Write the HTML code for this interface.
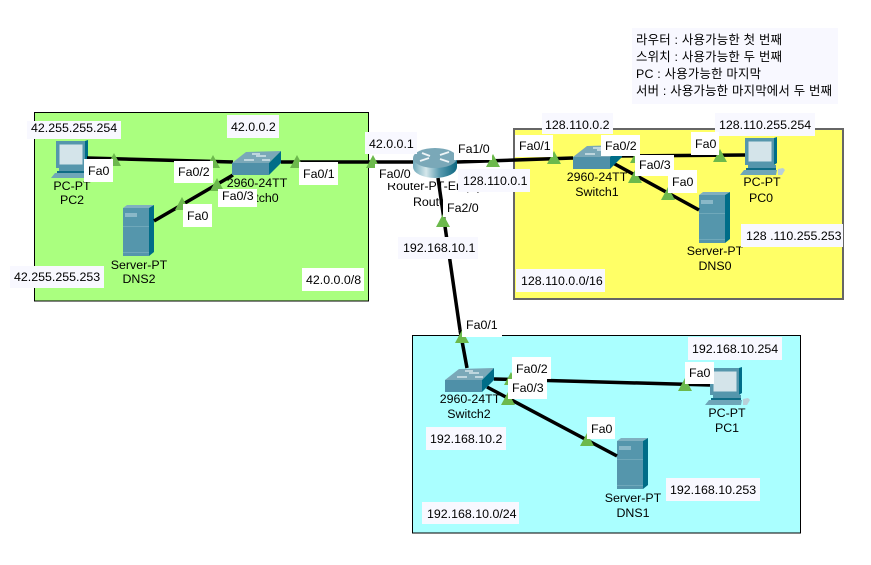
<!DOCTYPE html>
<html><head><meta charset="utf-8"><style>
html,body{margin:0;padding:0;background:#fff;width:871px;height:565px;overflow:hidden}
svg{display:block}
text{font-family:"Liberation Sans","Noto Sans CJK KR",sans-serif;font-size:12.4px;fill:#000}
.c{text-anchor:middle}
.l{stroke:#000;stroke-width:3.5;fill:none}
.b{fill:#f8f8ff}.w{fill:#fff}
.t{fill:#6cb94c}
</style></head><body>
<svg width="871" height="565" viewBox="0 0 871 565" xmlns="http://www.w3.org/2000/svg">
<defs>
<linearGradient id="rg" x1="0" x2="1" y1="0" y2="0"><stop offset="0" stop-color="#6fa9ba"/><stop offset=".3" stop-color="#d5e7eb"/><stop offset=".6" stop-color="#5a9bb0"/><stop offset="1" stop-color="#0c6781"/></linearGradient>
<symbol id="pc" overflow="visible" viewBox="0 0 1 1" width="1" height="1">
<polygon points="29,0 32,-1 32,25 29,27" fill="#006d88"/>
<rect x="0" y="0" width="29" height="27" fill="#5596ac"/>
<rect x="3.500" y="3.500" width="23" height="20" fill="#d4e4ea"/>
<rect x="3" y="27" width="28" height="3" fill="#5596ac"/>
<rect x="1" y="30" width="30" height="2" fill="#0f6c85"/>
<polygon points="-1,32 32,32 31,37 -5,37" fill="#6fa6b8"/>
<polygon points="33,31 38,30 40,32 37,37 33,37" fill="#b9d0d8"/>
</symbol>
<symbol id="sv" overflow="visible" viewBox="0 0 1 1" width="1" height="1">
<rect x="0" y="3" width="26" height="48" fill="#5596ac"/>
<polygon points="0,3 4,0 31,0 26,3" fill="#80b0c0"/>
<polygon points="26,3 31,0 31,47 26,51" fill="#006d88"/>
<rect x="2" y="8" width="12" height="4" fill="#8ab8c8"/>
<rect x="0" y="21" width="26" height="1" fill="#6fa8ba"/>
<rect x="0" y="47" width="26" height="1" fill="#6fa8ba"/>
</symbol>
<symbol id="sw" overflow="visible" viewBox="0 0 1 1" width="1" height="1">
<polygon points="0,12 14,1 49,0 37,12" fill="#7aa8b8"/>
<rect x="0" y="12" width="37" height="12" fill="#4f90a8"/>
<polygon points="37,12 49,0 49,12 37,24" fill="#006d88"/>
<path d="M12 9h10M24 5h10M30 9h8M20 3h8" stroke="#e8f2f5" stroke-width="1.200" fill="none"/>
</symbol>
</defs>

<rect x="34.500" y="112.500" width="334" height="188.500" fill="#aaff7f" stroke="#000"/>
<rect x="514" y="129" width="329" height="170" fill="#ffff66" stroke="#666" stroke-width="2"/>
<rect x="412.500" y="335.500" width="388" height="197.500" fill="#aaffff" stroke="#000"/>

<rect x="632" y="28" width="206" height="76" class="b"/>
<text x="636" y="44" textLength="146">라우터 : 사용가능한 첫 번째</text>
<text x="636" y="61" textLength="146">스위치 : 사용가능한 두 번째</text>
<text x="636" y="78" textLength="125">PC : 사용가능한 마지막</text>
<text x="636" y="95" textLength="196">서버 : 사용가능한 마지막에서 두 번째</text>

<!-- device labels -->
<text x="72" y="190" class="c">PC-PT</text><text x="72" y="204" class="c">PC2</text>
<text x="139" y="269" class="c">Server-PT</text><text x="139" y="283" class="c">DNS2</text>
<text x="257" y="187" class="c">2960-24TT</text><text x="257" y="202" class="c">Switch0</text>
<text x="435" y="190" class="c">Router-PT-Empty</text><text x="435" y="206" class="c">Router0</text>
<text x="597" y="181" class="c">2960-24TT</text><text x="597" y="196" class="c">Switch1</text>
<text x="762" y="186" class="c">PC-PT</text><text x="761" y="202" class="c">PC0</text>
<text x="715" y="255" class="c">Server-PT</text><text x="715" y="270" class="c">DNS0</text>
<text x="470" y="403" class="c">2960-24TT</text><text x="469" y="418" class="c">Switch2</text>
<text x="727" y="417" class="c">PC-PT</text><text x="727" y="432" class="c">PC1</text>
<text x="633" y="502" class="c">Server-PT</text><text x="633" y="517" class="c">DNS1</text>

<!-- devices -->
<use href="#pc" x="56" y="141"/><use href="#pc" x="745" y="138"/><use href="#pc" x="710" y="368"/>
<use href="#sv" x="123" y="205"/><use href="#sv" x="699" y="192"/><use href="#sv" x="617" y="438"/>

<!-- links -->
<path class="l" d="M87 158L233 162M281 162H413M154 221L233 175M457 162L573 158M613 156L745 155M613 163L699 210M467 368L460 330"/>
<path class="l" d="M494 379L710 385M487 387L617 456"/>

<use href="#sw" x="232" y="151"/><use href="#sw" x="573" y="145"/><use href="#sw" x="445" y="368"/>
<ellipse cx="435" cy="167" rx="22" ry="11" fill="url(#rg)"/>
<rect x="413" y="158" width="44" height="9" fill="url(#rg)"/>
<ellipse cx="435" cy="158" rx="22" ry="10" fill="#7aa8b8"/>
<path d="M420 161l9-3M440 155l9-3M422 153l8 3M440 159l9 3" stroke="#eef5f7" stroke-width="1.800" fill="none"/>
<path class="l" d="M438 178L460 330"/>

<!-- triangles -->
<g class="t">
<polygon points="114,153 107,166 121,166"/><polygon points="213,155 206,168 220,168"/>
<polygon points="217,178 210,191 224,191"/><polygon points="182,197 175,210 189,210"/>
<polygon points="297,155 290,168 304,168"/><polygon points="373,155 366,168 380,168"/>
<polygon points="493,154 486,167 500,167"/><polygon points="443,214 436,227 450,227"/>
<polygon points="554,151 547,164 561,164"/><polygon points="635,170 628,183 642,183"/>
<polygon points="637,150 630,163 644,163"/><polygon points="720,149 713,162 727,162"/>
<polygon points="668,187 661,200 675,200"/><polygon points="462,330 455,343 469,343"/>
<polygon points="685,378 678,391 692,391"/><polygon points="508,392 501,405 515,405"/>
<polygon points="511,372 504,385 518,385"/><polygon points="587,433 580,446 594,446"/>
</g>

<!-- labels -->
<rect x="27" y="121" width="94" height="18" class="b"/><text x="31" y="132">42.255.255.254</text>
<rect x="227" y="115" width="52" height="23" class="b"/><text x="231" y="131">42.0.0.2</text>
<rect x="84" y="159" width="29" height="23" class="w"/><text x="88" y="175">Fa0</text>
<rect x="174" y="161" width="39" height="22" class="w"/><text x="178" y="176">Fa0/2</text>
<rect x="218" y="189" width="39" height="18" class="w"/><text x="222" y="200">Fa0/3</text>
<rect x="299" y="162" width="39" height="23" class="w"/><text x="303" y="178">Fa0/1</text>
<rect x="183" y="204" width="29" height="23" class="w"/><text x="187" y="220">Fa0</text>
<rect x="10" y="266" width="94" height="22" class="b"/><text x="14" y="281">42.255.255.253</text>
<rect x="302" y="268" width="62" height="23" class="w"/><text x="306" y="284">42.0.0.0/8</text>

<rect x="365" y="132" width="52" height="22" class="b"/><text x="369" y="148">42.0.0.1</text>
<rect x="375" y="164" width="38" height="19" class="w"/><text x="379" y="178">Fa0/0</text>
<rect x="454" y="138" width="38" height="22" class="w"/><text x="458" y="153">Fa1/0</text>
<rect x="458" y="169" width="72" height="23" class="b"/><text x="463" y="185">128.110.0.1</text>
<rect x="443" y="197" width="40" height="20" class="w"/><text x="447" y="212">Fa2/0</text>
<rect x="398" y="237" width="80" height="22" class="b"/><text x="403" y="252">192.168.10.1</text>
<rect x="515" y="135" width="38" height="22" class="w"/><text x="519" y="150">Fa0/1</text>
<rect x="542" y="113" width="71" height="21" class="b"/><text x="545" y="129">128.110.0.2</text>
<rect x="601" y="135" width="39" height="21" class="w"/><text x="605" y="150">Fa0/2</text>
<rect x="516" y="269" width="89" height="23" class="b"/><text x="521" y="285">128.110.0.0/16</text>
<rect x="715" y="113" width="100" height="23" class="b"/><text x="719" y="129">128.110.255.254</text>
<rect x="691" y="132" width="28" height="23" class="w"/><text x="695" y="148">Fa0</text>
<rect x="635" y="155" width="39" height="21" class="w"/><text x="639" y="169">Fa0/3</text>
<rect x="668" y="170" width="29" height="23" class="w"/><text x="672" y="186">Fa0</text>
<rect x="741" y="224" width="102" height="23" class="b"/><text x="746" y="240">128 .110.255.253</text>

<rect x="462" y="315" width="40" height="22" class="w"/><text x="466" y="329">Fa0/1</text>
<rect x="688" y="337" width="94" height="23" class="b"/><text x="692" y="353">192.168.10.254</text>
<rect x="685" y="362" width="29" height="22" class="w"/><text x="689" y="377">Fa0</text>
<rect x="512" y="357" width="39" height="22" class="w"/><text x="516" y="373">Fa0/2</text>
<rect x="508" y="379" width="39" height="20" class="w"/><text x="512" y="392">Fa0/3</text>
<rect x="587" y="417" width="28" height="22" class="w"/><text x="591" y="433">Fa0</text>
<rect x="426" y="427" width="80" height="23" class="b"/><text x="430" y="443">192.168.10.2</text>
<rect x="666" y="478" width="94" height="23" class="b"/><text x="670" y="494">192.168.10.253</text>
<rect x="422" y="502" width="97" height="22" class="b"/><text x="427" y="518">192.168.10.0/24</text>
</svg>
</body></html>
